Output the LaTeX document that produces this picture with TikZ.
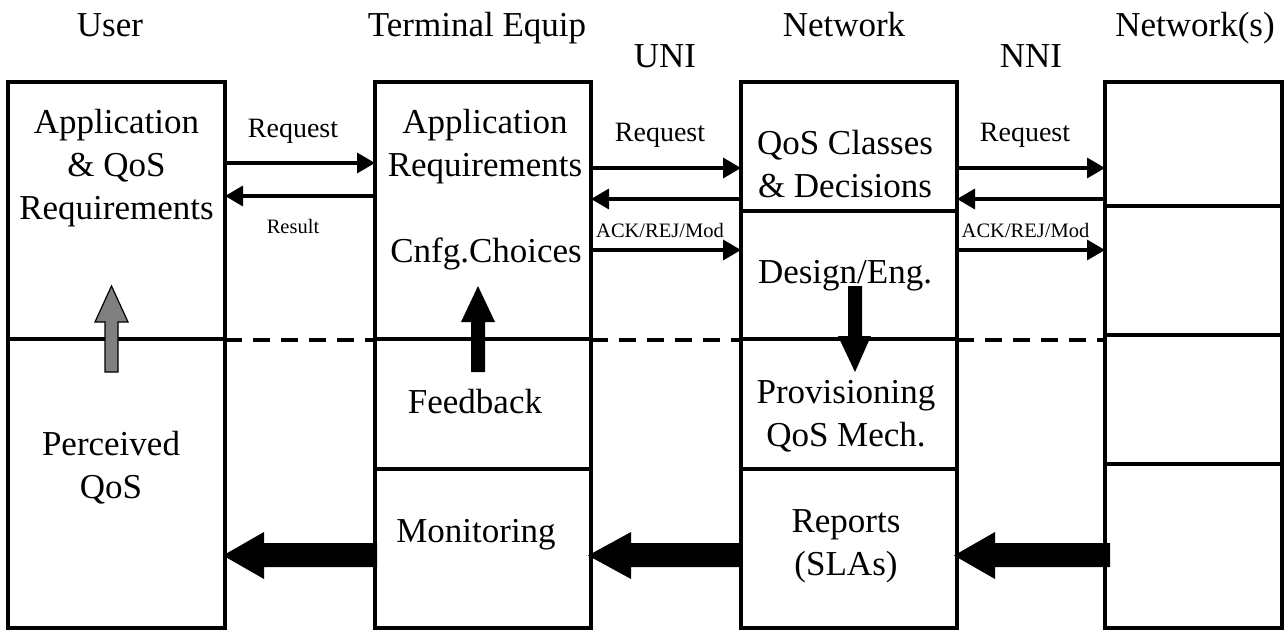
\documentclass[tikz,border=0pt]{standalone}
\usepackage{fontspec}
\setmainfont{Liberation Serif}
\usetikzlibrary{arrows.meta}
\begin{document}
\begin{tikzpicture}[x=1pt,y=-1pt,
  boxst/.style={draw, line width=3.5pt, inner sep=0pt, outer sep=0pt, rectangle},
  divst/.style={line width=3.5pt},
  dashst/.style={line width=3.5pt, dash pattern=on 17pt off 11pt},
  big/.style={font=\fontsize{35}{43}\selectfont, align=center, inner sep=0pt, anchor=base},
  med/.style={font=\fontsize{28}{32}\selectfont, inner sep=0pt, anchor=base},
  sml/.style={font=\fontsize{20.5}{24}\selectfont, inner sep=0pt, anchor=base},
  msg/.style={line width=3.5pt, -{Triangle[length=18pt,width=20pt]}},
  blk/.style={fill=black},
  gry/.style={fill=gray, draw=black, line width=1.2pt},
]
\useasboundingbox (0,0) rectangle (1284,631);

% boxes
\node[boxst, minimum width=217pt, minimum height=546pt] (user) at (116.5,355) {};
\node[boxst, minimum width=216pt, minimum height=546pt] (term) at (483,355) {};
\node[boxst, minimum width=216pt, minimum height=546pt] (net) at (849,355) {};
\node[boxst, minimum width=177pt, minimum height=546pt] (nets) at (1193.5,355) {};

% divisions
\draw[divst] (user.west |- 0,339) -- (user.east |- 0,339);
\draw[divst] (term.west |- 0,339) -- (term.east |- 0,339);
\draw[divst] (term.west |- 0,469) -- (term.east |- 0,469);
\draw[divst] (net.west |- 0,211) -- (net.east |- 0,211);
\draw[divst] (net.west |- 0,339) -- (net.east |- 0,339);
\draw[divst] (net.west |- 0,469) -- (net.east |- 0,469);
\draw[divst] (nets.west |- 0,206) -- (nets.east |- 0,206);
\draw[divst] (nets.west |- 0,335) -- (nets.east |- 0,335);
\draw[divst] (nets.west |- 0,464) -- (nets.east |- 0,464);
\draw[dashst] (user.east |- 0,340) -- (term.west |- 0,340);
\draw[dashst] (term.east |- 0,340) -- (net.west |- 0,340);
\draw[dashst] (net.east |- 0,340) -- (nets.west |- 0,340);

% headers
\node[big] (hUser) at (110,37) {User};
\node[big] (hTerm) at (477,37) {Terminal Equip};
\node[big] (hUNI) at (665,68) {UNI};
\node[big] (hNet) at (844,37) {Network};
\node[big] (hNNI) at (1031,68) {NNI};
\node[big] (hNets) at (1195,37) {Network(s)};

% box texts (base = baseline of last line)
\node[big] (tUserReq) at (116.5,219) {Application\\\& QoS\\Requirements};
\node[big] (tPerc) at (111,498) {Perceived\\QoS};
\node[big] (tTermReq) at (485,177) {Application\\Requirements};
\node[big] (tCnfg) at (486,262) {Cnfg.Choices};
\node[big] (tFeed) at (475,413) {Feedback};
\node[big] (tMon) at (476,542) {Monitoring};
\node[big] (tNetCls) at (845,197) {QoS Classes\\\& Decisions};
\node[big] (tDesign) at (845,283) {Design/Eng.};
\node[big] (tProv) at (846,446) {Provisioning\\QoS Mech.};
\node[big] (tRep) at (846,575) {Reports\\(SLAs)};

% message labels
\node[med] (lReq1) at (293,138) {Request};
\node[sml] (lRes) at (293,233) {Result};
\node[med] (lReq2) at (660,142) {Request};
\node[sml] (lAck1) at (660,237) {ACK/REJ/Mod};
\node[med] (lReq3) at (1025,142) {Request};
\node[sml] (lAck2) at (1025.5,237) {ACK/REJ/Mod};

% message arrows
\draw[msg] (user.east |- 0,163) -- (term.west |- 0,163);
\draw[msg] (term.west |- 0,196) -- (user.east |- 0,196);
\draw[msg] (term.east |- 0,168) -- (net.west |- 0,168);
\draw[msg] (net.west |- 0,199) -- (term.east |- 0,199);
\draw[msg] (term.east |- 0,250) -- (net.west |- 0,250);
\draw[msg] (net.east |- 0,168) -- (nets.west |- 0,168);
\draw[msg] (nets.west |- 0,199) -- (net.east |- 0,199);
\draw[msg] (net.east |- 0,250) -- (nets.west |- 0,250);

% block arrows
\draw[gry] (105,372) -- (105,322) -- (95,322) -- (111.5,286) -- (128,322) -- (118,322) -- (118,372) -- cycle;
\fill[blk] (471,372) -- (471,322) -- (461,322) -- (478,286) -- (495,322) -- (485,322) -- (485,372) -- cycle;
\fill[blk] (848,286) -- (848,336) -- (838,336) -- (855,372) -- (871,336) -- (862,336) -- (862,286) -- cycle;
\fill[blk] (377,543) -- (264,543) -- (264,532) -- (223,555.5) -- (264,579) -- (264,567) -- (377,567) -- cycle;
\fill[blk] (741,543) -- (631,543) -- (631,532) -- (588,555.5) -- (631,579) -- (631,567) -- (741,567) -- cycle;
\fill[blk] (1110,543) -- (995,543) -- (995,532) -- (954,555.5) -- (995,579) -- (995,567) -- (1110,567) -- cycle;
\end{tikzpicture}
\end{document}
